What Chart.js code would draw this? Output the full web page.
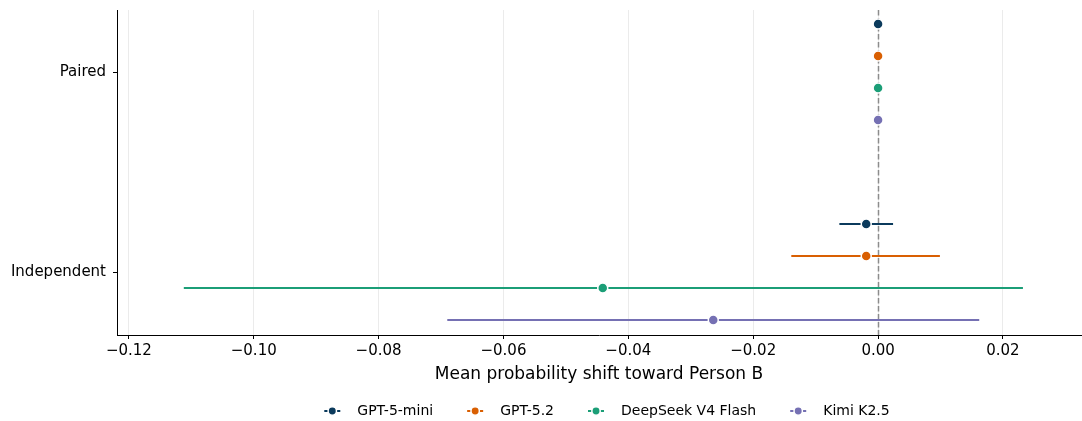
<!DOCTYPE html>
<html>
<head>
<meta charset="utf-8">
<script src="https://cdn.jsdelivr.net/npm/chart.js@4.4.1/dist/chart.umd.min.js"></script>
<style>
  html, body { margin: 0; padding: 0; background: #fff; }
  #wrap { width: 1082px; height: 421px; }
</style>
</head>
<body>
<div id="wrap"><canvas id="myChart" width="1082" height="421"></canvas></div>
<script>
// categories on the y axis (top to bottom)
const conditions = ['Paired', 'Independent'];
// models
const models = ['GPT-5-mini', 'GPT-5.2', 'DeepSeek V4 Flash', 'Kimi K2.5'];
const colors = ['#0b3a5c', '#d95f02', '#1b9e77', '#7570b3'];
// mean shift per model, per condition [Paired, Independent]
const means = [
  [0.0, -0.0019],
  [0.0, -0.0019],
  [0.0, -0.0441],
  [0.0, -0.0264]
];
const lower = [
  [0.0, -0.0062],
  [0.0, -0.0139],
  [0.0, -0.1112],
  [0.0, -0.0690]
];
const upper = [
  [0.0, 0.0024],
  [0.0, 0.0099],
  [0.0, 0.0232],
  [0.0, 0.0162]
];
const xTicks = [-0.12, -0.10, -0.08, -0.06, -0.04, -0.02, 0.00, 0.02];

const FONT = 'DejaVu Sans';
Chart.defaults.font.family = FONT;
Chart.defaults.color = '#000';

function offsetFor(i) {
  return (i - (models.length - 1) / 2) * 0.16;
}

const datasets = models.map((m, i) => ({
  label: m,
  data: conditions.map((c, j) => ({
    x: means[i][j], y: j + offsetFor(i), lo: lower[i][j], hi: upper[i][j]
  })),
  backgroundColor: colors[i],
  borderColor: '#fff',
  borderWidth: 1.5,
  pointRadius: 5,
  pointHoverRadius: 5
}));

const errorBars = {
  id: 'errorBars',
  beforeDatasetsDraw(chart) {
    const { ctx, scales: { x, y }, chartArea } = chart;
    ctx.save();
    // reference line at zero
    const zx = Math.round(x.getPixelForValue(0)) + 0.5;
    ctx.strokeStyle = '#8c8c8c';
    ctx.lineWidth = 1.5;
    ctx.setLineDash([5.5, 2.5]);
    ctx.beginPath();
    ctx.moveTo(zx, chartArea.top);
    ctx.lineTo(zx, chartArea.bottom);
    ctx.stroke();
    ctx.setLineDash([]);
    chart.data.datasets.forEach((ds, i) => {
      ctx.strokeStyle = colors[i];
      ctx.lineWidth = 2;
      ds.data.forEach(p => {
        if (p.hi - p.lo <= 0) return;
        const py = y.getPixelForValue(p.y);
        ctx.beginPath();
        ctx.moveTo(x.getPixelForValue(p.lo), py);
        ctx.lineTo(x.getPixelForValue(p.hi), py);
        ctx.stroke();
      });
    });
    ctx.restore();
  }
};

// legend below the axis title, drawn by hand
const bottomLegend = {
  id: 'bottomLegend',
  afterDraw(chart) {
    const { ctx, chartArea } = chart;
    ctx.save();
    ctx.font = '14px ' + FONT;
    ctx.textBaseline = 'middle';
    const mw = 16, gap = 17, itemGap = 34;
    const widths = models.map(m => mw + gap + ctx.measureText(m).width);
    const total = widths.reduce((a, b) => a + b, 0) + itemGap * (models.length - 1);
    let xx = (chartArea.left + chartArea.right) / 2 + 8 - total / 2;
    const yy = 411;
    models.forEach((m, i) => {
      ctx.strokeStyle = colors[i];
      ctx.lineWidth = 2;
      ctx.beginPath(); ctx.moveTo(xx, yy); ctx.lineTo(xx + mw, yy); ctx.stroke();
      ctx.beginPath(); ctx.arc(xx + mw / 2, yy, 4.2, 0, Math.PI * 2);
      ctx.fillStyle = colors[i]; ctx.fill();
      ctx.lineWidth = 1.5; ctx.strokeStyle = '#fff'; ctx.stroke();
      ctx.fillStyle = '#000';
      ctx.fillText(m, xx + mw + gap, yy);
      xx += widths[i] + itemGap;
    });
    ctx.restore();
  }
};

const ctx = document.getElementById('myChart').getContext('2d');
new Chart(ctx, {
  type: 'scatter',
  data: { datasets },
  plugins: [errorBars, bottomLegend],
  options: {
    responsive: false,
    animation: false,
    layout: { autoPadding: false, padding: { top: 10, right: 1, left: 0, bottom: 36 } },
    plugins: {
      tooltip: { enabled: false },
      legend: { display: false }
    },
    scales: {
      x: {
        type: 'linear',
        min: -0.1219,
        max: 0.0325,
        afterBuildTicks(scale) { scale.ticks = xTicks.map(v => ({ value: v })); },
        afterFit(scale) {
          scale.height = 50;
          scale.paddingLeft = 0;
          scale.paddingRight = 0;
        },
        ticks: {
          font: { size: 15 },
          padding: 3,
          maxRotation: 0,
          callback: v => v.toFixed(2).replace('-', '\u2212')
        },
        grid: { color: '#ebebeb', lineWidth: 1, tickLength: 4, tickColor: '#000' },
        border: { color: '#000', width: 1 },
        title: {
          display: true,
          text: 'Mean probability shift toward Person B',
          font: { size: 17 },
          padding: { top: 0, bottom: 0 }
        }
      },
      y: {
        type: 'linear',
        reverse: true,
        min: -0.31,
        max: 1.315,
        afterBuildTicks(scale) { scale.ticks = conditions.map((c, j) => ({ value: j })); },
        afterFit(scale) {
          scale.width = 117;
          scale.paddingTop = 0;
          scale.paddingBottom = 0;
        },
        ticks: {
          font: { size: 15 },
          padding: 7,
          callback: v => conditions[v]
        },
        grid: { drawOnChartArea: false, tickLength: 4, tickColor: '#000' },
        border: { color: '#000', width: 1 }
      }
    }
  }
});
</script>
</body>
</html>
